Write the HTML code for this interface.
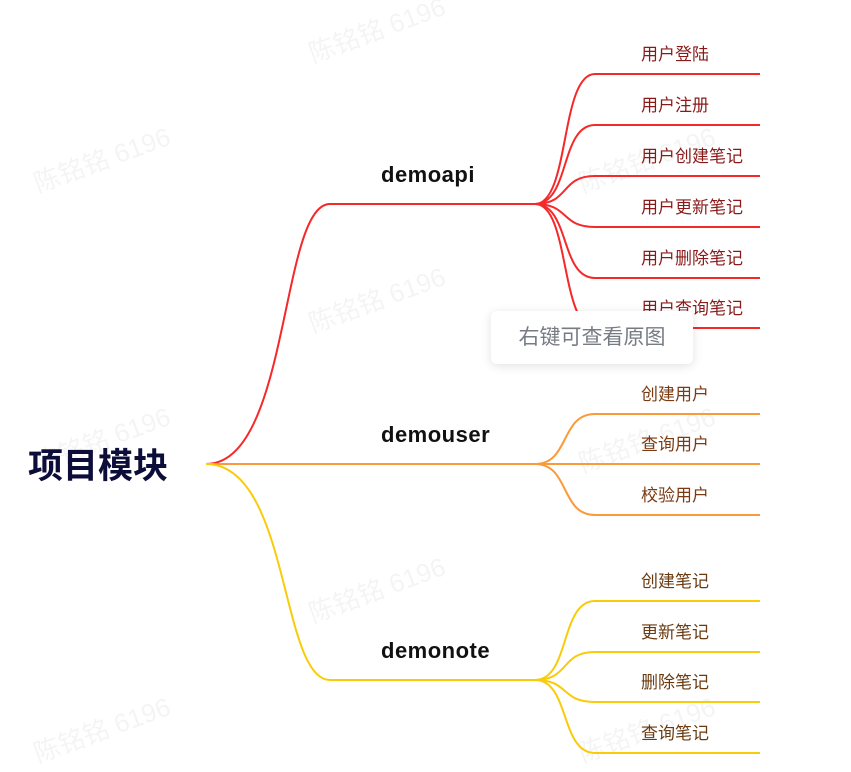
<!DOCTYPE html>
<html><head><meta charset="utf-8"><style>
body{margin:0;background:#fff;width:851px;height:772px;overflow:hidden;position:relative;font-family:"Liberation Sans","Noto Sans CJK SC",sans-serif}
svg{position:absolute;left:0;top:0}
.wm{position:absolute;color:rgba(0,0,0,0.045);font-size:26px;transform:rotate(-20deg);white-space:nowrap}
.tip{position:absolute;left:491px;top:311px;width:202px;height:53px;background:#fff;border-radius:6px;box-shadow:0 2px 10px rgba(0,0,0,0.12);color:#777b84;font-size:21px;line-height:53px;text-align:center}
</style></head><body>
<div class="wm" style="left:305px;top:10px">陈铭铭 6196</div>
<div class="wm" style="left:30px;top:140px">陈铭铭 6196</div>
<div class="wm" style="left:575px;top:140px">陈铭铭 6196</div>
<div class="wm" style="left:305px;top:280px">陈铭铭 6196</div>
<div class="wm" style="left:30px;top:420px">陈铭铭 6196</div>
<div class="wm" style="left:575px;top:420px">陈铭铭 6196</div>
<div class="wm" style="left:305px;top:570px">陈铭铭 6196</div>
<div class="wm" style="left:30px;top:710px">陈铭铭 6196</div>
<div class="wm" style="left:575px;top:710px">陈铭铭 6196</div>
<svg width="851" height="772" xmlns="http://www.w3.org/2000/svg" font-family="Liberation Sans, Noto Sans CJK SC, sans-serif">
<g fill="none" stroke-width="2">
<path d="M206,464 C290,464 280,204 330,204 L535,204" stroke="#f5282a"/>
<path d="M206,464 L535,464" stroke="#fb9a3a"/>
<path d="M206,464 C290,464 280,680 330,680 L535,680" stroke="#f8cc0a"/>
<g stroke="#f5282a">
<path d="M535,204 C570,204 560,74 595,74 L760,74"/>
<path d="M535,204 C570,204 560,125 595,125 L760,125"/>
<path d="M535,204 C570,204 560,176 595,176 L760,176"/>
<path d="M535,204 C570,204 560,227 595,227 L760,227"/>
<path d="M535,204 C570,204 560,278 595,278 L760,278"/>
<path d="M535,204 C570,204 560,328 595,328 L760,328"/>
</g>
<g stroke="#fb9a3a">
<path d="M535,464 C570,464 560,414 595,414 L760,414"/>
<path d="M535,464 L760,464"/>
<path d="M535,464 C570,464 560,515 595,515 L760,515"/>
</g>
<g stroke="#f8cc0a">
<path d="M535,680 C570,680 560,601 595,601 L760,601"/>
<path d="M535,680 C570,680 560,652 595,652 L760,652"/>
<path d="M535,680 C570,680 560,702 595,702 L760,702"/>
<path d="M535,680 C570,680 560,753 595,753 L760,753"/>
</g>
</g>
<text x="28" y="478" font-size="35" font-weight="bold" fill="#0d0d3a">项目模块</text>
<g font-size="22" font-weight="bold" fill="#111" letter-spacing="0.5">
<text x="381" y="182">demoapi</text>
<text x="381" y="442">demouser</text>
<text x="381" y="658">demonote</text>
</g>
<g font-size="17" fill="#8a1a1a">
<text x="641" y="60">用户登陆</text>
<text x="641" y="111">用户注册</text>
<text x="641" y="162">用户创建笔记</text>
<text x="641" y="213">用户更新笔记</text>
<text x="641" y="264">用户删除笔记</text>
<text x="641" y="314">用户查询笔记</text>
</g>
<g font-size="17" fill="#7a3a12">
<text x="641" y="400">创建用户</text>
<text x="641" y="450">查询用户</text>
<text x="641" y="501">校验用户</text>
</g>
<g font-size="17" fill="#6a3a10">
<text x="641" y="587">创建笔记</text>
<text x="641" y="638">更新笔记</text>
<text x="641" y="688">删除笔记</text>
<text x="641" y="739">查询笔记</text>
</g>
</svg>
<div class="tip">右键可查看原图</div>
</body></html>
